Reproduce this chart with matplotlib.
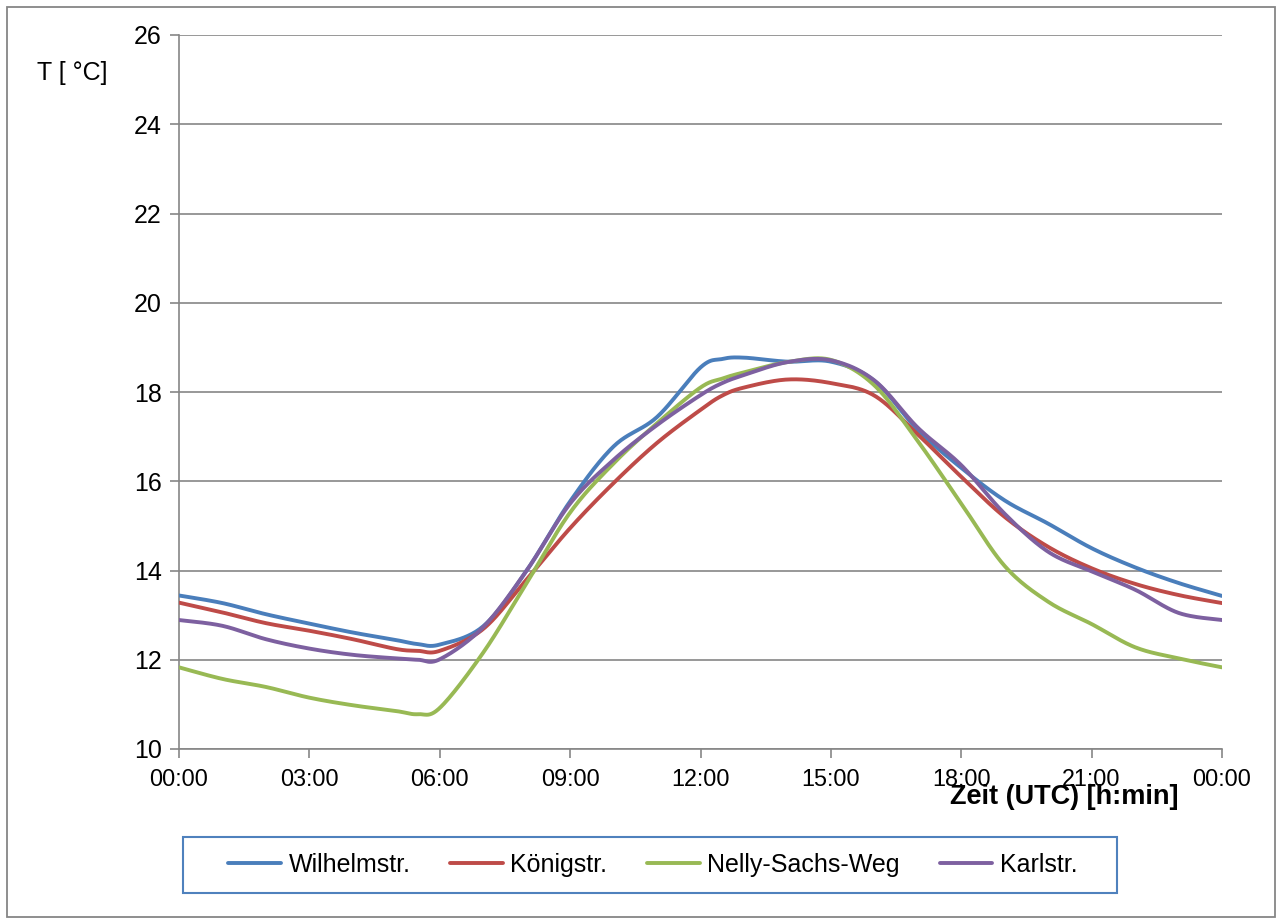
import numpy as np
import matplotlib
matplotlib.use("Agg")
import matplotlib.pyplot as plt
from matplotlib.patches import Rectangle

hours = [0, 1, 2, 3, 4, 5, 5.5, 6, 7, 8, 9, 10, 11, 12, 12.5, 13, 14, 15, 16, 17, 18, 19, 20, 21, 22, 23, 24]
wilhelm = [13.44, 13.27, 13.02, 12.81, 12.61, 12.44, 12.35, 12.34, 12.75, 14.0, 15.55, 16.78, 17.44, 18.55, 18.74,
           18.77, 18.68, 18.68, 18.25, 17.15, 16.3, 15.57, 15.05, 14.5, 14.07, 13.72, 13.43]
koenig = [13.28, 13.06, 12.82, 12.65, 12.46, 12.24, 12.2, 12.2, 12.69, 13.8, 14.95, 15.96, 16.86, 17.6, 17.92,
          18.1, 18.28, 18.2, 17.92, 17.05, 16.1, 15.2, 14.53, 14.05, 13.7, 13.45, 13.27]
nelly = [11.83, 11.57, 11.39, 11.15, 10.98, 10.85, 10.78, 10.92, 12.16, 13.72, 15.3, 16.4, 17.3, 18.1, 18.3,
         18.44, 18.67, 18.72, 18.15, 16.9, 15.5, 14.1, 13.3, 12.8, 12.28, 12.03, 11.83]
karl = [12.89, 12.76, 12.46, 12.25, 12.11, 12.03, 12.0, 12.01, 12.73, 14.0, 15.5, 16.48, 17.26, 17.93, 18.2,
        18.38, 18.67, 18.71, 18.26, 17.2, 16.36, 15.27, 14.42, 13.98, 13.57, 13.05, 12.89]

names = ["Wilhelmstr.", "Königstr.", "Nelly-Sachs-Weg", "Karlstr."]
colors = ["#4A7EBB", "#BE4B48", "#98B954", "#7D60A0"]
xticks = [0, 3, 6, 9, 12, 15, 18, 21, 24]
xlabels = ["00:00", "03:00", "06:00", "09:00", "12:00", "15:00", "18:00", "21:00", "00:00"]
yticks = [10, 12, 14, 16, 18, 20, 22, 24, 26]


def smooth(xs, ys, n=24):
    p = np.column_stack([xs, ys]).astype(float)
    out = []
    for i in range(len(p) - 1):
        p0 = p[i - 1] if i > 0 else p[i]
        p1 = p[i]
        p2 = p[i + 1]
        p3 = p[i + 2] if i + 2 < len(p) else p[i + 1]
        t = np.linspace(0, 1, n, endpoint=False)[:, None]
        seg = 0.5 * ((2 * p1) + (-p0 + p2) * t + (2 * p0 - 5 * p1 + 4 * p2 - p3) * t ** 2
                     + (-p0 + 3 * p1 - 3 * p2 + p3) * t ** 3)
        out.append(seg)
    out.append(p[-1:])
    a = np.vstack(out)
    return a[:, 0], a[:, 1]


plt.rcParams['font.family'] = ['Liberation Sans', 'DejaVu Sans']
W, H = 1281, 924
fig = plt.figure(figsize=(W / 100, H / 100), dpi=100)
fig.patches.append(Rectangle((7 / W, 1 - 917 / H), (1275 - 7) / W, (917 - 7) / H,
                             transform=fig.transFigure, fill=False, edgecolor="#868686", lw=1.3))
# legend box
fig.patches.append(Rectangle((183 / W, 1 - 893 / H), (1117 - 183) / W, (893 - 837) / H,
                             transform=fig.transFigure, fill=False, edgecolor="#4F81BD", lw=1.5))

ax = fig.add_axes([179 / W, 1 - 749 / H, (1222 - 179) / W, (749 - 35) / H])
grid_c = "#868686"
for i, (vals, c, nm) in enumerate(zip([wilhelm, koenig, nelly, karl], colors, names)):
    sx, sy = smooth(hours, vals)
    ax.plot(sx, sy, color=c, lw=2.8, label=nm, solid_capstyle='round', zorder=3 + i)

ax.set_xlim(0, 24)
ax.set_ylim(10, 26)
ax.set_xticks(xticks)
ax.set_xticklabels(xlabels)
ax.set_yticks(yticks)
ax.yaxis.grid(True, color=grid_c, lw=1.2)
ax.set_axisbelow(True)
for s in ["top", "right"]:
    ax.spines[s].set_visible(False)
for s in ["left", "bottom"]:
    ax.spines[s].set_color(grid_c)
    ax.spines[s].set_linewidth(1.2)
ax.tick_params(axis='both', colors=grid_c, labelcolor="black", width=1.2, length=6.5, direction='out')
ax.tick_params(axis='x', pad=7, labelsize=16.8)
ax.tick_params(axis='y', pad=6, labelsize=18)

fig.text(37 / W, 1 - 73 / H, "T [ °C]", fontsize=18, va='center', ha='left')
fig.text(1064 / W, 1 - 797 / H, "Zeit (UTC) [h:min]", fontsize=19.5, fontweight='bold', va='center', ha='center')

leg = fig.legend(loc='center', bbox_to_anchor=(653 / W, 1 - 865 / H), ncol=4, fontsize=18,
                 frameon=False, handlelength=2.1, handletextpad=0.3,
                 columnspacing=1.6, borderpad=0.6, borderaxespad=0)
for l in leg.get_lines():
    l.set_linewidth(2.8)

fig.savefig("out.png", dpi=100)
